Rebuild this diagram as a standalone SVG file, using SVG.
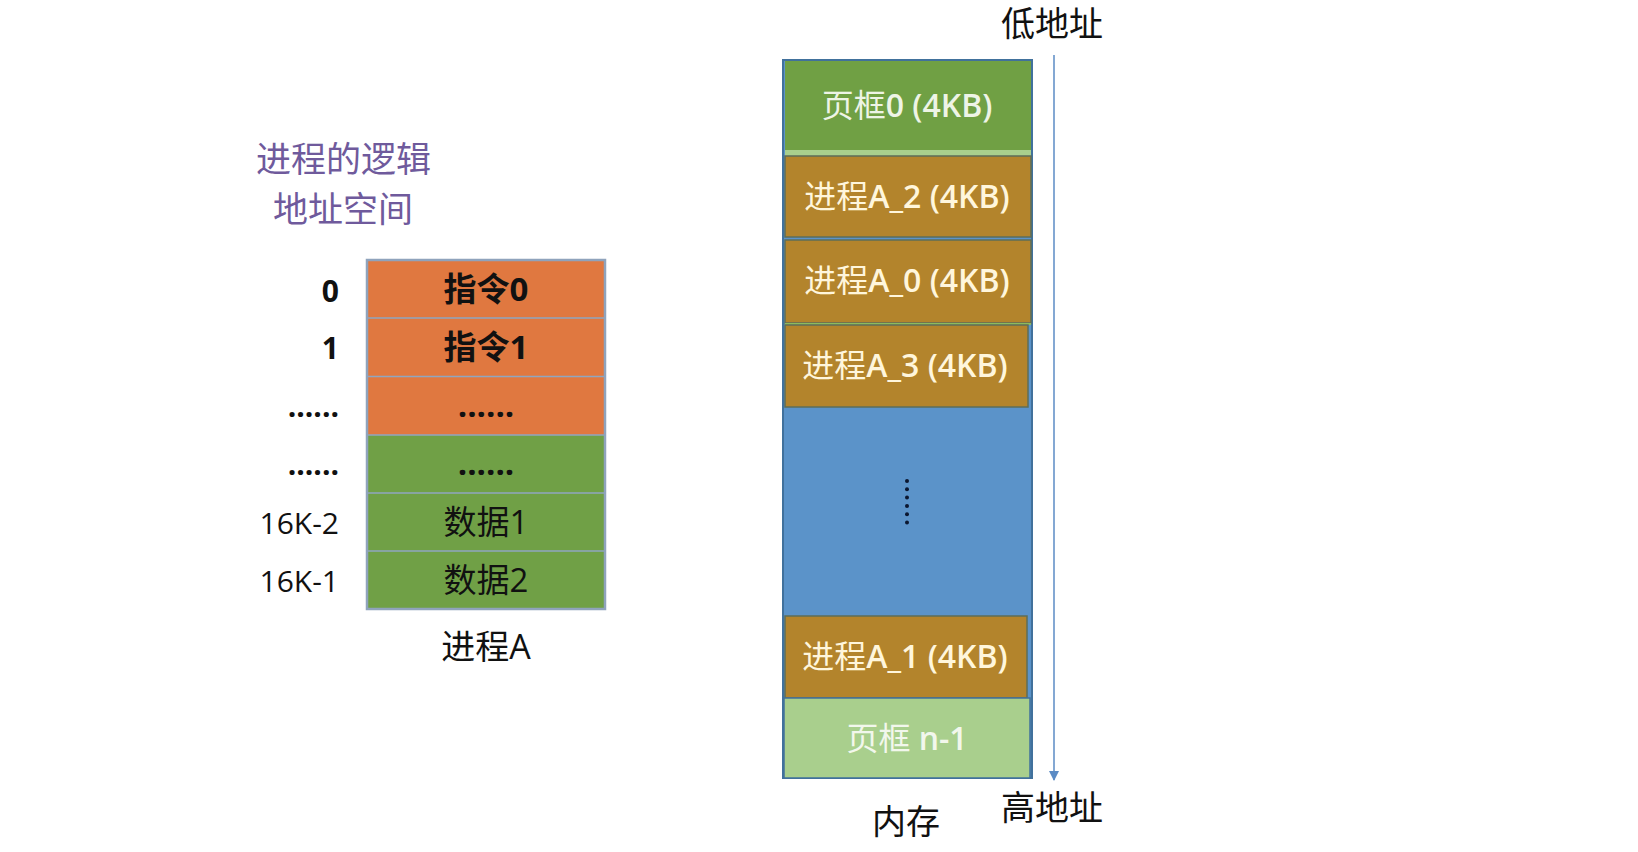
<svg xmlns="http://www.w3.org/2000/svg" width="1638" height="852" viewBox="0 0 1638 852">
  <defs>
    <style>
      .cjk { font-family: "Open Sans", "Noto Sans CJK SC", sans-serif; }
      .title { font-size: 35px; fill: #6F5A9C; }
      .lbl { font-size: 30px; fill: #111; text-anchor: end; }
      .cell { font-size: 33px; fill: #111; text-anchor: middle; }
      .frame { font-size: 32px; fill: #FFF6DC; text-anchor: middle; }
      .frame .lat { font-weight: 600; }
      .note { font-size: 34px; fill: #111; text-anchor: middle; }
      .orange { fill: #E07840; }
      .green { fill: #70A046; }
      .brown { fill: #B3842C; stroke: #5E6E58; stroke-width: 1.5; }
      .sep { stroke: #8FA6C0; stroke-width: 1.5; }
    </style>
    <marker id="arrowhead" markerWidth="10" markerHeight="10" refX="9" refY="5" orient="auto" markerUnits="userSpaceOnUse">
      <path d="M0,0 L10,5 L0,10 Z" fill="#5B8BC4"/>
    </marker>
  </defs>

  <rect width="1638" height="852" fill="#FFFFFF"/>

  <!-- logical address space title -->
  <g id="title" class="cjk">
    <text class="title" x="256" y="172">进程的逻辑</text>
    <text class="title" x="273" y="222">地址空间</text>
  </g>

  <!-- process A logical pages -->
  <g id="processA" class="cjk">
    <rect class="orange" x="367" y="260" width="238" height="175"/>
    <rect class="green" x="367" y="435" width="238" height="174"/>
    <line class="sep" x1="367" y1="318" x2="605" y2="318"/>
    <line class="sep" x1="367" y1="376.5" x2="605" y2="376.5"/>
    <line class="sep" x1="367" y1="435" x2="605" y2="435"/>
    <line class="sep" x1="367" y1="493" x2="605" y2="493"/>
    <line class="sep" x1="367" y1="551" x2="605" y2="551"/>
    <rect x="367" y="260" width="238" height="349" fill="none" stroke="#8FA3BC" stroke-width="2.5"/>

    <text class="cell" x="486" y="301" font-weight="bold">指令0</text>
    <text class="cell" x="486" y="359" font-weight="bold">指令1</text>
    <text class="cell" x="486" y="417" font-weight="bold">......</text>
    <text class="cell" x="486" y="475" font-weight="bold">......</text>
    <text class="cell" x="486" y="534">数据1</text>
    <text class="cell" x="486" y="592">数据2</text>

    <text class="lbl" x="339" y="302" font-weight="bold">0</text>
    <text class="lbl" x="339" y="359" font-weight="bold">1</text>
    <text class="lbl" x="339" y="417" font-weight="bold">......</text>
    <text class="lbl" x="339" y="475" font-weight="bold">......</text>
    <text class="lbl" x="339" y="534">16K-2</text>
    <text class="lbl" x="339" y="592">16K-1</text>

    <text class="note" x="486" y="659">进程A</text>
  </g>

  <!-- physical memory frames -->
  <g id="memory" class="cjk">
    <rect x="783" y="60" width="249" height="718" fill="#5B93C9" stroke="#41719C" stroke-width="2"/>
    <g id="frame0">
      <rect x="785" y="61" width="246" height="89" fill="#70A044"/>
      <rect x="785" y="150" width="246" height="6" fill="#A9CF8D"/>
      <text class="frame" x="907" y="117" style="fill:#EEF4E6">页框<tspan class="lat">0 (4KB)</tspan></text>
    </g>
    <g id="pageA2">
      <rect class="brown" x="785" y="156" width="246" height="81"/>
      <text class="frame" x="907" y="208">进程<tspan class="lat">A_2 (4KB)</tspan></text>
    </g>
    <g id="pageA0">
      <rect class="brown" x="785" y="240" width="246" height="83"/>
      <rect x="785" y="323" width="246" height="2" fill="#8DBB5E"/>
      <text class="frame" x="907" y="292">进程<tspan class="lat">A_0 (4KB)</tspan></text>
    </g>
    <g id="pageA3">
      <rect class="brown" x="785" y="325" width="243" height="82"/>
      <text class="frame" x="905" y="377">进程<tspan class="lat">A_3 (4KB)</tspan></text>
    </g>
    <g id="freeGap">
      <circle cx="907" cy="481" r="2" fill="#0B1730"/>
      <circle cx="907" cy="489.3" r="2" fill="#0B1730"/>
      <circle cx="907" cy="497.6" r="2" fill="#0B1730"/>
      <circle cx="907" cy="505.9" r="2" fill="#0B1730"/>
      <circle cx="907" cy="514.2" r="2" fill="#0B1730"/>
      <circle cx="907" cy="522.5" r="2" fill="#0B1730"/>
    </g>
    <g id="pageA1">
      <rect class="brown" x="785" y="616" width="242" height="82"/>
      <text class="frame" x="905" y="668">进程<tspan class="lat">A_1 (4KB)</tspan></text>
    </g>
    <g id="frameN1">
      <rect x="784" y="698" width="246" height="80" fill="#A9CF8D" stroke="#41719C" stroke-width="1.5"/>
      <text class="frame" x="907" y="750" style="fill:#F2F7EC">页框 <tspan class="lat">n-1</tspan></text>
    </g>
    <text class="note" x="906" y="834">内存</text>
  </g>

  <!-- address direction -->
  <g id="connectors">
    <line x1="1054" y1="55" x2="1054" y2="780" stroke="#5B8BC4" stroke-width="1.5" marker-end="url(#arrowhead)"/>
  </g>
  <g id="addrLabels" class="cjk">
    <text class="note" x="1052" y="36">低地址</text>
    <text class="note" x="1052" y="820">高地址</text>
  </g>
</svg>
